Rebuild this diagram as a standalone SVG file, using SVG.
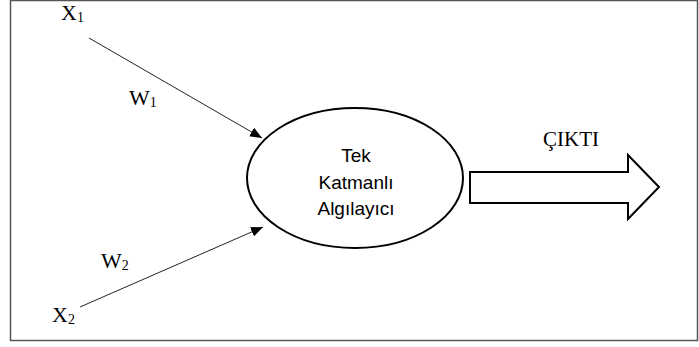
<svg xmlns="http://www.w3.org/2000/svg" width="699" height="347" viewBox="0 0 699 347">
  <style>
    .frame { fill: #ffffff; stroke: #555555; stroke-width: 1.5; }
    .edge { stroke: #222222; stroke-width: 1; fill: none; }
    .shape { fill: #ffffff; stroke: #000000; stroke-width: 2; }
    .serif { font-family: "Liberation Serif", "Times New Roman", serif; fill: #000000; }
    .sans { font-family: "Liberation Sans", Arial, sans-serif; font-size: 19px; fill: #000000; text-anchor: middle; }
  </style>
  <defs>
    <marker id="tri" viewBox="0 0 12 10" refX="12" refY="5" markerWidth="12" markerHeight="10" markerUnits="userSpaceOnUse" orient="auto">
      <path d="M0,0 L12,5 L0,10 Z" fill="#000000"/>
    </marker>
  </defs>

  <rect class="frame" x="10.5" y="0.5" width="687" height="340"/>

  <g id="connectors">
    <line class="edge" x1="89" y1="38" x2="262" y2="138" marker-end="url(#tri)"/>
    <line class="edge" x1="80" y1="307" x2="263" y2="227" marker-end="url(#tri)"/>
  </g>

  <g id="x1">
    <text class="serif" x="61" y="20" font-size="22">X<tspan font-size="14" dy="2">1</tspan></text>
  </g>
  <g id="w1">
    <text class="serif" x="129" y="105" font-size="22">W<tspan font-size="14" dy="2">1</tspan></text>
  </g>
  <g id="w2">
    <text class="serif" x="101" y="268" font-size="22">W<tspan font-size="14" dy="2">2</tspan></text>
  </g>
  <g id="x2">
    <text class="serif" x="52" y="322" font-size="22">X<tspan font-size="14" dy="2">2</tspan></text>
  </g>

  <g id="perceptron">
    <ellipse class="shape" cx="355" cy="178" rx="108" ry="70"/>
    <text class="sans" x="356" y="162">Tek</text>
    <text class="sans" x="356" y="189">Katmanlı</text>
    <text class="sans" x="356" y="215">Algılayıcı</text>
  </g>

  <g id="output">
    <path class="shape" d="M470,172 H628 V155 L659,187 L628,219 V203 H470 Z" stroke-width="1.8"/>
    <text class="serif" x="571" y="146" font-size="21" text-anchor="middle">ÇIKTI</text>
  </g>
</svg>
